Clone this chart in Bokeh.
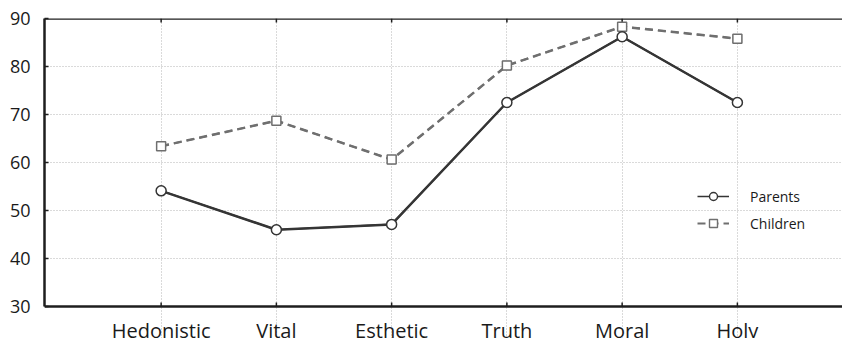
from bokeh.plotting import figure
from bokeh.models import FixedTicker, LinearAxis, Range1d, Legend, Span
from bokeh.core.properties import value
from bokeh.embed import file_html
from bokeh.resources import INLINE

categories = ["Hedonistic", "Vital", "Esthetic", "Truth", "Moral", "Holy"]
parents = [54.1, 46.0, 47.1, 72.5, 86.2, 72.5]
children = [63.4, 68.7, 60.6, 80.2, 88.3, 85.8]
y_ticks = [30, 40, 50, 60, 70, 80, 90]

xpos = list(range(1, len(categories) + 1))
y_lo, y_hi = y_ticks[0], y_ticks[-1]
FONT = "Open Sans"
AXIS_COLOR = "#1e1e1e"
TEXT_COLOR = "#1a1a1a"
P_COLOR = "#353535"
C_COLOR = "#6f6f6f"
C_DASH = "8 5"

W, H = 842, 338
LEFT, TOP, AXIS_Y = 44, 18, 306          # frame geometry in pixels
px_per_unit = (AXIS_Y - TOP) / (y_hi - y_lo)
y_start = y_lo - (H - AXIS_Y) / px_per_unit   # frame runs to the canvas bottom

p = figure(width=W, height=H, output_backend="svg", toolbar_location=None,
           x_range=Range1d(-0.012, 6.912), y_range=Range1d(y_start, y_hi),
           min_border_left=LEFT, min_border_right=0, min_border_top=TOP,
           min_border_bottom=0, x_axis_location=None, y_axis_location=None)
p.outline_line_color = None
p.background_fill_color = "white"
p.border_fill_color = "white"

left = LinearAxis(bounds=(y_lo, y_hi))
left.ticker = FixedTicker(ticks=y_ticks)
left.axis_line_color = AXIS_COLOR
left.axis_line_width = 2.5
left.major_tick_line_color = AXIS_COLOR
left.major_tick_line_width = 1.5
left.major_tick_in = 4
left.major_tick_out = 0
left.minor_tick_line_color = None
left.major_label_text_font = FONT
left.major_label_text_color = TEXT_COLOR
left.major_label_text_font_size = "18px"
left.major_label_standoff = 14
p.add_layout(left, "left")

# frame lines at bottom (30) and top (90)
p.add_layout(Span(location=y_lo, dimension="width", line_color=AXIS_COLOR, line_width=2.5))
p.add_layout(Span(location=y_hi, dimension="width", line_color=AXIS_COLOR, line_width=2.5))

# inward category ticks on bottom and top lines
tick_len = 4 / px_per_unit
p.segment(x0=xpos, y0=[y_lo] * 6, x1=xpos, y1=[y_lo + tick_len] * 6,
          line_color=AXIS_COLOR, line_width=1.5)
p.segment(x0=xpos, y0=[y_hi] * 6, x1=xpos, y1=[y_hi - tick_len] * 6,
          line_color=AXIS_COLOR, line_width=1.5)

# category labels
p.text(x=xpos, y=[y_lo] * 6, text=categories, text_align="center",
       text_baseline="alphabetic", y_offset=24, text_font=value(FONT),
       text_font_size="20px", text_color=TEXT_COLOR)

p.xgrid.ticker = FixedTicker(ticks=xpos)
p.xgrid.bounds = (y_lo, y_hi)
p.ygrid.ticker = FixedTicker(ticks=y_ticks[1:-1])
for g in (p.xgrid, p.ygrid):
    g.grid_line_color = "#b4b4b4"
    g.grid_line_dash = "1 2"
    g.grid_line_width = 1

# thin versions of the series used as legend swatches (hidden under the series)
lc_line = p.line(xpos, children, line_color=C_COLOR, line_width=1.8, line_dash=C_DASH)
lc_pt = p.scatter(xpos, children, marker="square", size=8, fill_color="white",
                  line_color=C_COLOR, line_width=1.4)
lp_line = p.line(xpos, parents, line_color=P_COLOR, line_width=1.6)
lp_pt = p.scatter(xpos, parents, marker="circle", size=9, fill_color="white",
                  line_color=P_COLOR, line_width=1.4)

# the series
p.line(xpos, children, line_color=C_COLOR, line_width=2.5, line_dash=C_DASH)
p.scatter(xpos, children, marker="square", size=9, fill_color="white",
          line_color=C_COLOR, line_width=1.5)
p.line(xpos, parents, line_color=P_COLOR, line_width=2.5)
p.scatter(xpos, parents, marker="circle", size=10, fill_color="white",
          line_color=P_COLOR, line_width=1.5)

legend = Legend(items=[("Parents", [lp_line, lp_pt]), ("Children", [lc_line, lc_pt])],
                location=(653, H - 233), orientation="vertical")
legend.border_line_color = None
legend.background_fill_alpha = 0
legend.padding = 0
legend.margin = 0
legend.spacing = 7
legend.glyph_width = 32
legend.glyph_height = 20
legend.label_height = 20
legend.label_standoff = 21
legend.label_text_font = FONT
legend.label_text_font_size = "14px"
legend.label_text_color = TEXT_COLOR
p.add_layout(legend)

open("out.html", "w").write(file_html(p, INLINE))
